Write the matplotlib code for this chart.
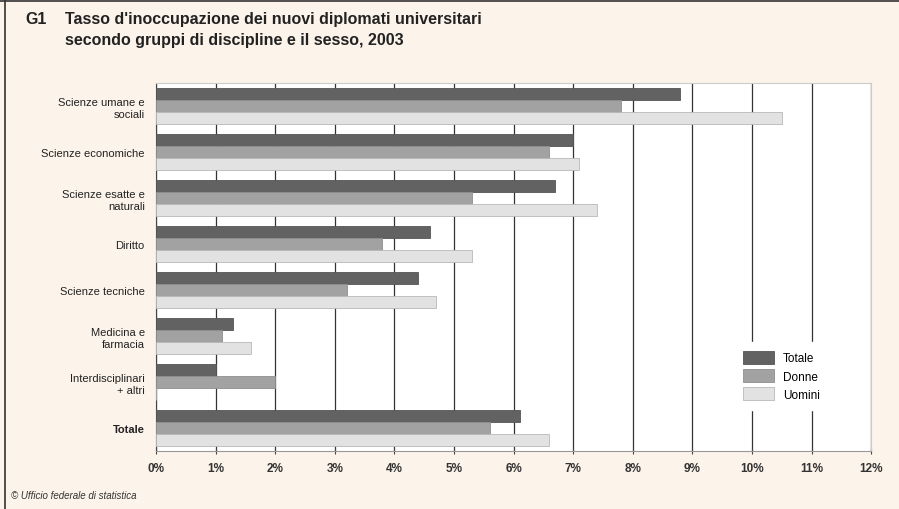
import numpy as np
import matplotlib.pyplot as plt
from matplotlib.lines import Line2D

categories = ["Scienze umane e\nsociali", "Scienze economiche", "Scienze esatte e\nnaturali",
              "Diritto", "Scienze tecniche", "Medicina e\nfarmacia",
              "Interdisciplinari\n+ altri", "Totale"]
totale = [8.8, 7.0, 6.7, 4.6, 4.4, 1.3, 1.0, 6.1]
donne = [7.8, 6.6, 5.3, 3.8, 3.2, 1.1, 2.0, 5.6]
uomini = [10.5, 7.1, 7.4, 5.3, 4.7, 1.6, 0.0, 6.6]
series_names = ["Totale", "Donne", "Uomini"]
xticks = np.arange(0, 13)

plt.rcParams['font.family'] = ['Liberation Sans', 'DejaVu Sans']

bg = "#fcf3ea"
fig = plt.figure(figsize=(8.99, 5.10), dpi=100, facecolor=bg)
ax = fig.add_axes([0.1735, 0.1137, 0.7955, 0.7213])
ax.set_facecolor("white")

y = np.arange(len(categories))
h = 0.26
colors = ["#626262", "#a2a2a2", "#e2e2e2"]
edges = ["#555555", "#8f8f8f", "#b8b8b8"]
for i, (vals, name) in enumerate(zip([totale, donne, uomini], series_names)):
    ax.barh(y + (i - 1) * h, vals, height=h, color=colors[i], edgecolor=edges[i],
            linewidth=0.6, label=name, zorder=3)

ax.set_xlim(0, 12)
ax.set_ylim(len(categories) - 0.5, -0.5)
ax.set_xticks(xticks)
ax.set_xticklabels([f"{t}%" for t in xticks], fontsize=8.5, fontweight="bold", color="#333333")
ax.set_yticks(y)
ax.set_yticklabels(categories, fontsize=8, color="#222222", multialignment="right")
ax.get_yticklabels()[-1].set_fontweight("bold")
ax.tick_params(axis="y", length=0, pad=8)
ax.tick_params(axis="x", length=4, color="#444444", direction="inout", pad=6)
ax.grid(axis="x", color="#333333", linewidth=0.9, zorder=1)
for s in ["top", "right"]:
    ax.spines[s].set_color("#cccccc")
ax.spines["left"].set_color("#444444")
ax.spines["bottom"].set_color("#999999")

leg = ax.legend(loc="lower right", bbox_to_anchor=(0.95, 0.095), fontsize=8.5,
                frameon=True, facecolor="white", edgecolor="white", framealpha=1,
                handlelength=2.6, handleheight=1.3, borderpad=0.8, labelspacing=0.4,
                fancybox=False)
leg.set_zorder(5)

fig.text(0.028, 0.953, "G1", fontsize=11.5, fontweight="bold", color="#222222")
fig.text(0.072, 0.953, "Tasso d'inoccupazione dei nuovi diplomati universitari",
         fontsize=11.5, fontweight="bold", color="#222222")
fig.text(0.072, 0.912, "secondo gruppi di discipline e il sesso, 2003",
         fontsize=11.5, fontweight="bold", color="#222222")
fig.text(0.012, 0.022, "© Ufficio federale di statistica", fontsize=7,
         style="italic", color="#333333")

fig.add_artist(Line2D([0.006, 0.006], [0, 0.997], color="#333333", linewidth=1.2))
fig.add_artist(Line2D([0, 1], [0.996, 0.996], color="#333333", linewidth=1.2))

fig.savefig("out.png", dpi=100, facecolor=bg)
